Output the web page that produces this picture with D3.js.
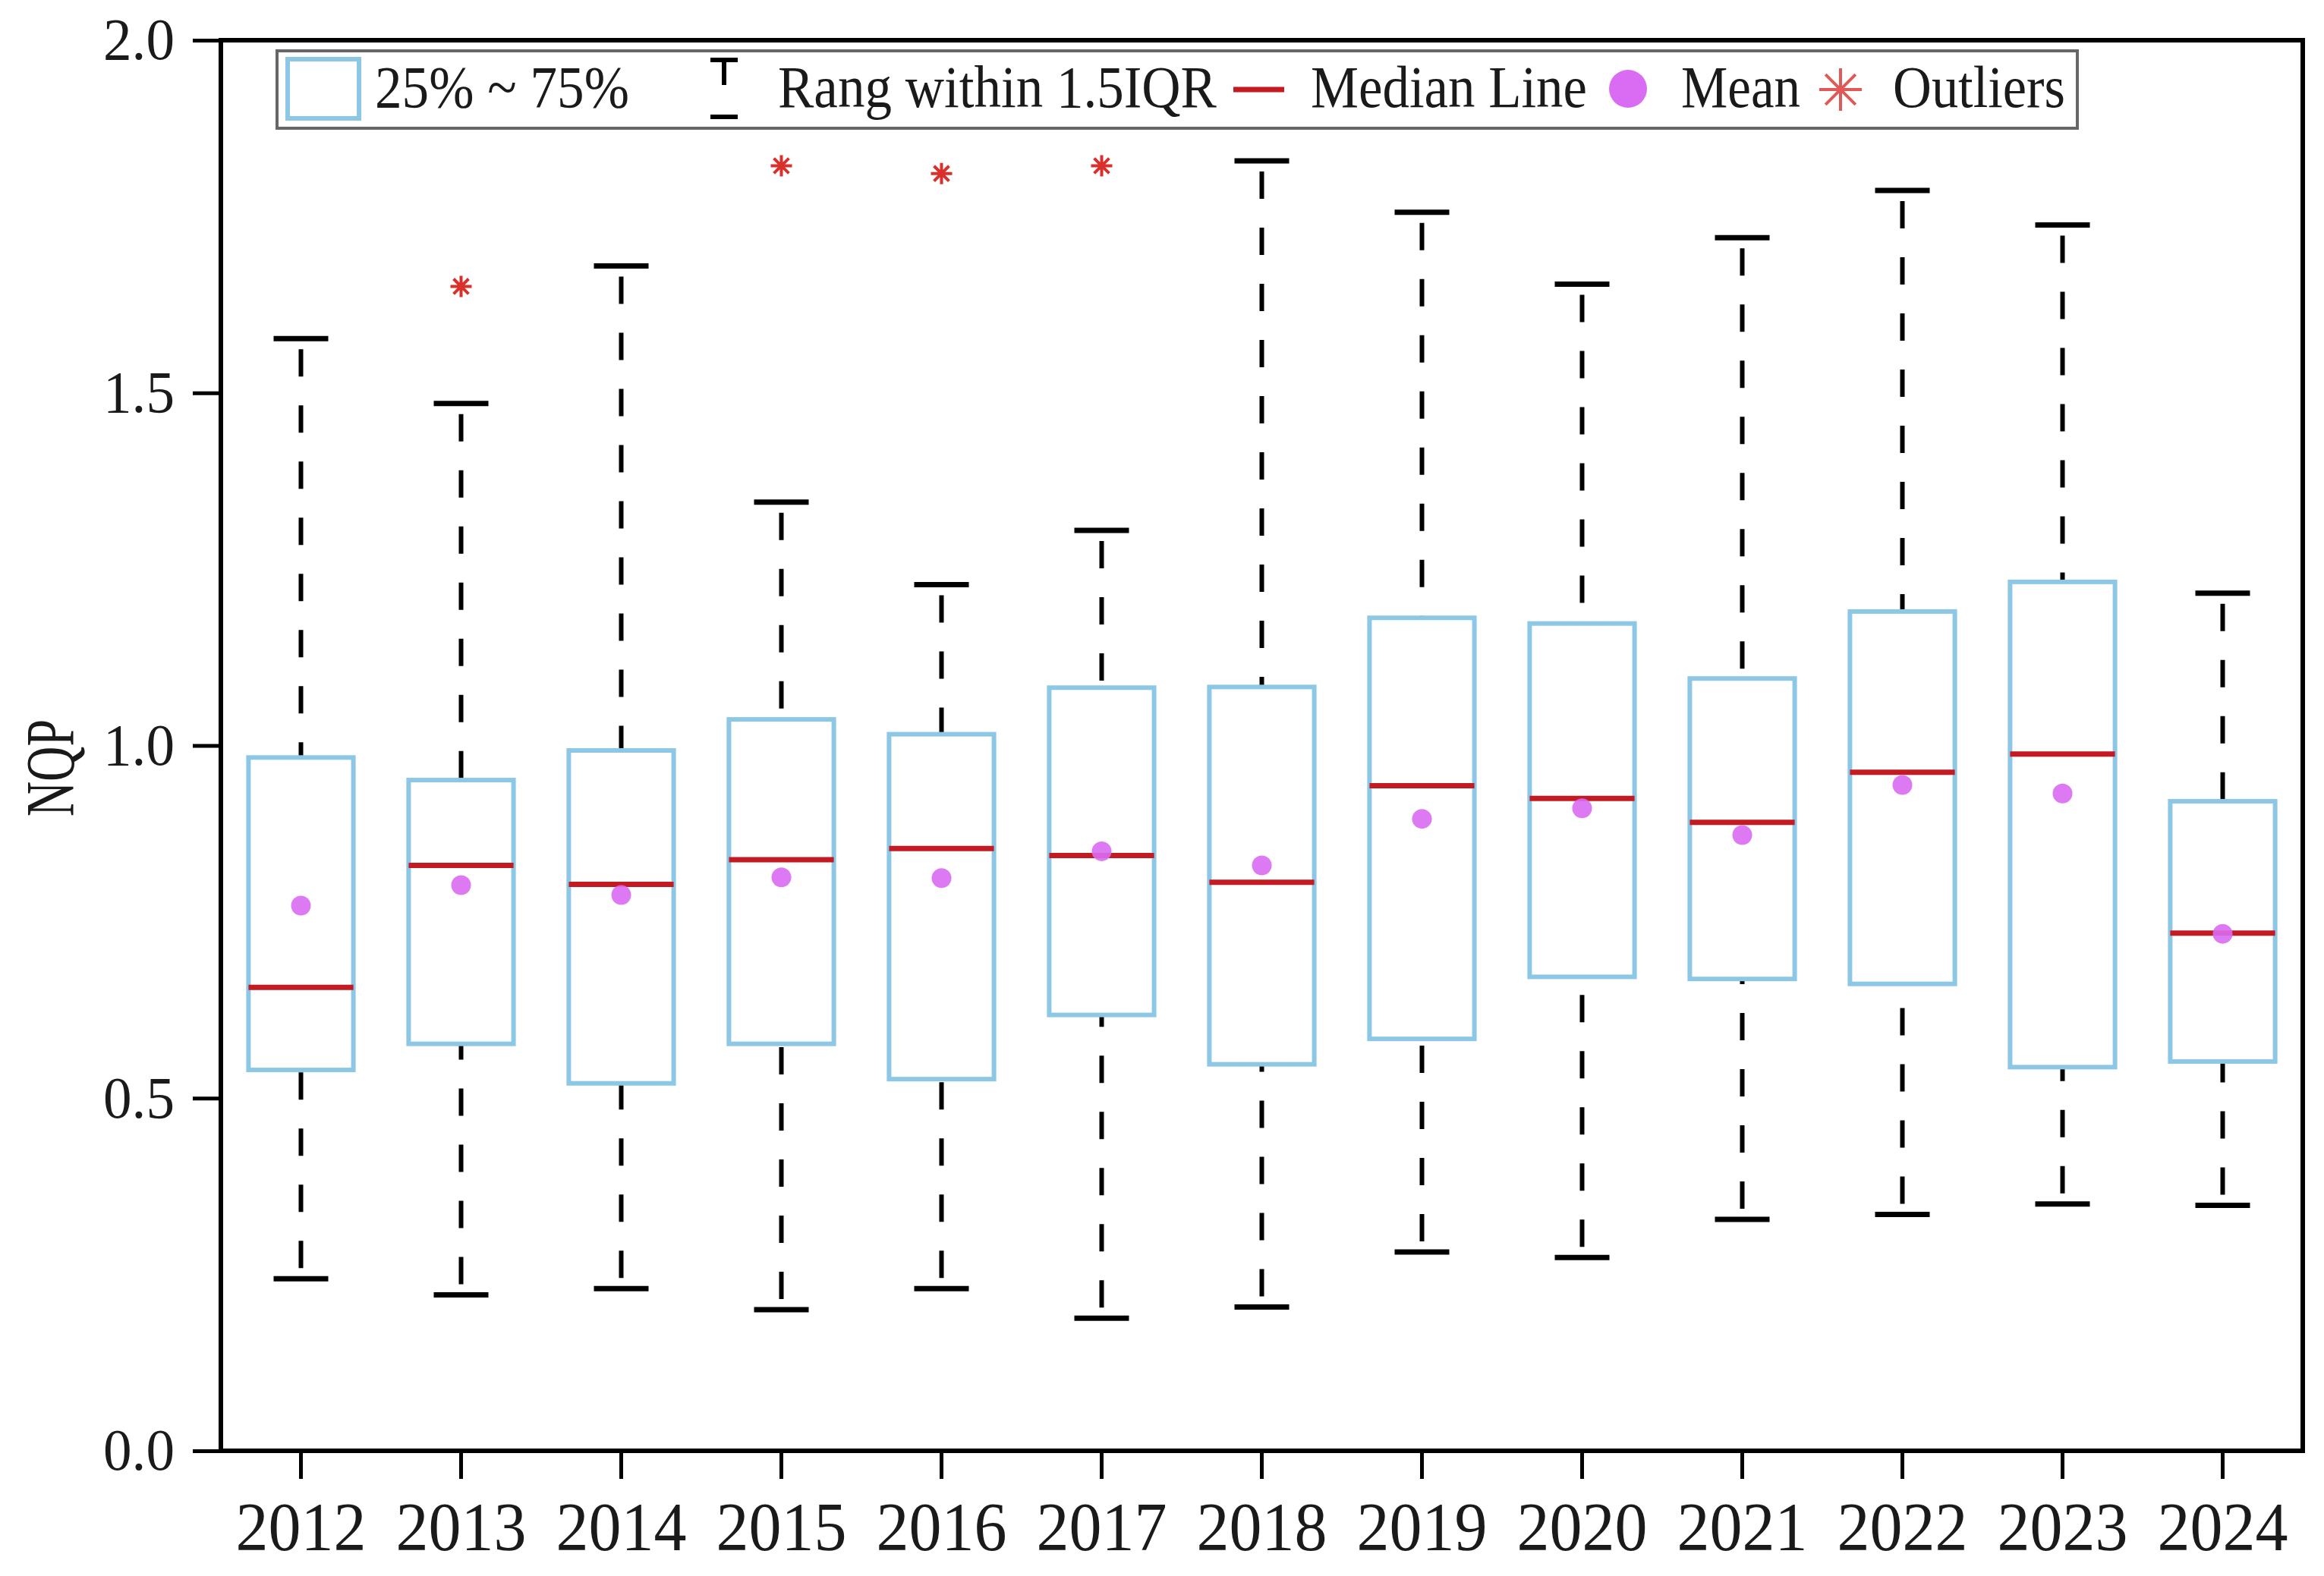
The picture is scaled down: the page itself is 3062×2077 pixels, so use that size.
<!DOCTYPE html>
<html>
<head>
<meta charset="utf-8">
<script src="https://cdn.jsdelivr.net/npm/d3@7"></script>
<style>
  body { margin: 0; background: #fff; }
  svg { display: block; font-family: "Liberation Serif", "Times New Roman", serif; }
</style>
</head>
<body>
<svg id="chart"></svg>
<script>
const width = 3062;
const height = 2077;
const margin = {left: 291, right: 28, top: 53, bottom: 165};

// box plot stats per year
const years = ['2012', '2013', '2014', '2015', '2016', '2017', '2018', '2019', '2020', '2021', '2022', '2023', '2024'];
const whiskerHigh = [1.577, 1.485, 1.680, 1.345, 1.228, 1.305, 1.829, 1.756, 1.654, 1.720, 1.787, 1.738, 1.216];
const q3Values = [0.983, 0.951, 0.993, 1.037, 1.016, 1.082, 1.083, 1.181, 1.173, 1.095, 1.190, 1.232, 0.921];
const medianValues = [0.657, 0.830, 0.803, 0.838, 0.854, 0.844, 0.806, 0.943, 0.925, 0.891, 0.962, 0.988, 0.734];
const meanValues = [0.773, 0.802, 0.788, 0.813, 0.812, 0.850, 0.830, 0.896, 0.911, 0.873, 0.944, 0.932, 0.733];
const q1Values = [0.540, 0.577, 0.521, 0.577, 0.527, 0.618, 0.548, 0.584, 0.672, 0.669, 0.662, 0.544, 0.552];
const whiskerLow = [0.244, 0.221, 0.230, 0.200, 0.230, 0.188, 0.204, 0.282, 0.274, 0.328, 0.335, 0.350, 0.348];

const outlierYears = ['2013', '2015', '2016', '2017'];
const outlierValues = [1.651, 1.822, 1.811, 1.822];

const yTicks = [0, 0.5, 1.0, 1.5, 2.0];

const boxData = years.map((y, i) => ({
    year: y,
    lo: whiskerLow[i], q1: q1Values[i], med: medianValues[i],
    mean: meanValues[i], q3: q3Values[i], hi: whiskerHigh[i]
}));
const outliers = outlierYears.map((y, i) => ({year: y, value: outlierValues[i]}));

const boxColor = '#8cc8e6';
const medianColor = '#c41a22';
const meanColor = '#d96cf2';
const outlierColor = '#d9302c';
const fontFamily = '"Liberation Serif", "Times New Roman", serif';

const svg = d3.select('#chart')
    .attr('width', width)
    .attr('height', height);

svg.append('rect').attr('width', width).attr('height', height).attr('fill', '#fff');

const xScale = d3.scaleBand()
    .domain(years)
    .range([margin.left, width - margin.right])
    .padding(0);

const yScale = d3.scaleLinear()
    .domain([0, 2])
    .range([height - margin.bottom, margin.top]);

const bw = xScale.bandwidth();
const boxW = bw * 0.655;
const capW = 72;

// axes
const xAxis = d3.axisBottom(xScale).tickSizeInner(37).tickSizeOuter(0).tickPadding(28);
const yAxis = d3.axisLeft(yScale).tickValues(yTicks).tickFormat(d3.format('.1f'))
    .tickSizeInner(37).tickSizeOuter(0).tickPadding(24);

const gx = svg.append('g')
    .attr('transform', `translate(0, ${height - margin.bottom})`)
    .call(xAxis);
gx.select('.domain').remove();
gx.selectAll('line').attr('stroke', '#000').attr('stroke-width', 5);
gx.selectAll('text').attr('font-size', 91).attr('fill', '#1a1a1a').attr('dy', '0.72em')
    .attr('textLength', 172).attr('lengthAdjust', 'spacingAndGlyphs')
    .attr('font-family', fontFamily);

const gy = svg.append('g')
    .attr('transform', `translate(${margin.left}, 0)`)
    .call(yAxis);
gy.select('.domain').remove();
gy.selectAll('line').attr('stroke', '#000').attr('stroke-width', 5);
gy.selectAll('text').attr('font-size', 78).attr('fill', '#1a1a1a')
    .attr('textLength', 94).attr('lengthAdjust', 'spacingAndGlyphs')
    .attr('font-family', fontFamily);

// frame
svg.append('rect')
    .attr('x', margin.left)
    .attr('y', margin.top)
    .attr('width', width - margin.left - margin.right)
    .attr('height', height - margin.top - margin.bottom)
    .attr('fill', 'none')
    .attr('stroke', '#000')
    .attr('stroke-width', 6);

svg.append('text')
    .attr('transform', 'rotate(-90)')
    .attr('x', -1012)
    .attr('y', 97)
    .attr('text-anchor', 'middle')
    .attr('font-size', 90)
    .attr('textLength', 128)
    .attr('lengthAdjust', 'spacingAndGlyphs')
    .attr('fill', '#1a1a1a')
    .text('NQP');

// boxes
const boxes = svg.append('g').selectAll('g')
    .data(boxData)
    .enter()
    .append('g');

const cx = d => xScale(d.year) + bw / 2;

// whiskers (dashed, drawn from cap towards box)
boxes.append('line')
    .attr('x1', cx).attr('x2', cx)
    .attr('y1', d => yScale(d.hi) + 14).attr('y2', d => yScale(d.q3))
    .attr('stroke', '#000').attr('stroke-width', 6)
    .attr('stroke-dasharray', '36,38');
boxes.append('line')
    .attr('x1', cx).attr('x2', cx)
    .attr('y1', d => yScale(d.lo) - 14).attr('y2', d => yScale(d.q1))
    .attr('stroke', '#000').attr('stroke-width', 6)
    .attr('stroke-dasharray', '36,38');

boxes.append('line')
    .attr('x1', d => cx(d) - capW / 2).attr('x2', d => cx(d) + capW / 2)
    .attr('y1', d => yScale(d.hi)).attr('y2', d => yScale(d.hi))
    .attr('stroke', '#000').attr('stroke-width', 7);
boxes.append('line')
    .attr('x1', d => cx(d) - capW / 2).attr('x2', d => cx(d) + capW / 2)
    .attr('y1', d => yScale(d.lo)).attr('y2', d => yScale(d.lo))
    .attr('stroke', '#000').attr('stroke-width', 7);

boxes.append('rect')
    .attr('x', d => cx(d) - boxW / 2)
    .attr('y', d => yScale(d.q3))
    .attr('width', boxW)
    .attr('height', d => yScale(d.q1) - yScale(d.q3))
    .attr('fill', 'none')
    .attr('stroke', boxColor)
    .attr('stroke-width', 6);

boxes.append('line')
    .attr('x1', d => cx(d) - boxW / 2).attr('x2', d => cx(d) + boxW / 2)
    .attr('y1', d => yScale(d.med)).attr('y2', d => yScale(d.med))
    .attr('stroke', medianColor).attr('stroke-width', 7);

boxes.append('circle')
    .attr('cx', cx)
    .attr('cy', d => yScale(d.mean))
    .attr('r', 13)
    .attr('fill', meanColor)
    .attr('opacity', 0.9);

function asteriskPath(s) {
    const d = s * Math.SQRT1_2;
    return `M${-s},0L${s},0M0,${-s}L0,${s}M${-d},${-d}L${d},${d}M${-d},${d}L${d},${-d}`;
}

svg.append('g').selectAll('path')
    .data(outliers)
    .enter()
    .append('path')
    .attr('transform', d => `translate(${cx(d)}, ${yScale(d.value)})`)
    .attr('d', asteriskPath(14))
    .attr('stroke', outlierColor)
    .attr('stroke-width', 4)
    .attr('fill', 'none');

// legend
const legend = svg.append('g');
legend.append('rect')
    .attr('x', 365).attr('y', 67)
    .attr('width', 2372).attr('height', 102)
    .attr('fill', '#fff')
    .attr('stroke', '#666')
    .attr('stroke-width', 4);

legend.append('rect')
    .attr('x', 379).attr('y', 78)
    .attr('width', 94).attr('height', 78)
    .attr('fill', 'none')
    .attr('stroke', boxColor)
    .attr('stroke-width', 6);

const legendText = (x, w, t) => legend.append('text')
    .attr('x', x).attr('y', 141)
    .attr('font-size', 78)
    .attr('textLength', w)
    .attr('lengthAdjust', 'spacingAndGlyphs')
    .attr('fill', '#1a1a1a')
    .text(t);

legendText(494, 335, '25% ~ 75%');

legend.append('path')
    .attr('d', 'M936,79L972,79M954,79L954,112M936,154L972,154')
    .attr('stroke', '#000')
    .attr('stroke-width', 6)
    .attr('fill', 'none');
legendText(1025, 578, 'Rang within 1.5IQR');

legend.append('line')
    .attr('x1', 1625).attr('x2', 1692)
    .attr('y1', 118).attr('y2', 118)
    .attr('stroke', medianColor).attr('stroke-width', 7);
legendText(1727, 364, 'Median Line');

legend.append('circle')
    .attr('cx', 2145).attr('cy', 117).attr('r', 25)
    .attr('fill', meanColor);
legendText(2215, 157, 'Mean');

legend.append('path')
    .attr('transform', 'translate(2425, 118)')
    .attr('d', asteriskPath(28))
    .attr('stroke', outlierColor)
    .attr('stroke-width', 4)
    .attr('opacity', 0.8)
    .attr('fill', 'none');
legendText(2494, 227, 'Outliers');
</script>
</body>
</html>
